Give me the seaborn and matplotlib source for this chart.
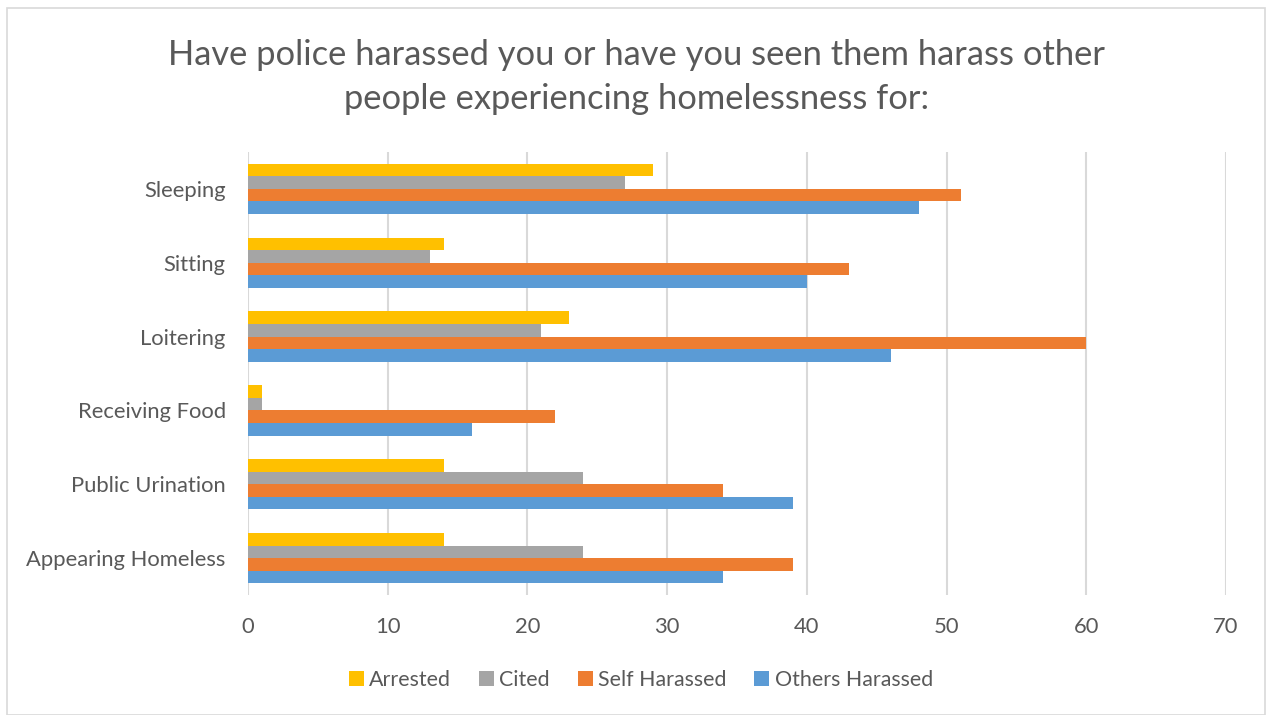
import matplotlib
matplotlib.use("Agg")
import matplotlib.pyplot as plt
from matplotlib.patches import Rectangle
import seaborn as sns
import pandas as pd

categories = ["Sleeping", "Sitting", "Loitering", "Receiving Food",
              "Public Urination", "Appearing Homeless"]
series = ["Arrested", "Cited", "Self Harassed", "Others Harassed"]
arrested = [29, 14, 23, 1, 14, 14]
cited = [27, 13, 21, 1, 24, 24]
self_harassed = [51, 43, 60, 22, 34, 39]
others_harassed = [48, 40, 46, 16, 39, 34]
x_ticks = [0, 10, 20, 30, 40, 50, 60, 70]
title = ("Have police harassed you or have you seen them harass other\n"
         "people experiencing homelessness for:")

colors = ["#FFC000", "#A5A5A5", "#ED7D31", "#5B9BD5"]
text_color = "#595959"

rows = []
for name, vals in zip(series, [arrested, cited, self_harassed, others_harassed]):
    for cat, v in zip(categories, vals):
        rows.append({"Activity": cat, "Series": name, "Count": v})
df = pd.DataFrame(rows)

sns.set_theme(style="white")
plt.rcParams["font.family"] = ["Lato", "DejaVu Sans"]

fig = plt.figure(figsize=(12.66, 7.15), dpi=100)
ax = fig.add_axes([248 / 1266, 1 - 595 / 715, (1226 - 248) / 1266, (595 - 152) / 715])

sns.barplot(data=df, y="Activity", x="Count", hue="Series", order=categories,
            hue_order=series, palette=colors, orient="h", width=0.68,
            saturation=1, ax=ax, legend=True, linewidth=0)

ax.set_xlim(0, 70)
ax.set_ylim(len(categories) - 0.5, -0.5)
ax.set_xticks(x_ticks)
ax.set_xticklabels([str(t) for t in x_ticks])
ax.xaxis.grid(True, color="#D9D9D9", linewidth=1.5)
ax.set_axisbelow(True)
for s in ax.spines.values():
    s.set_visible(False)
ax.set_xlabel("")
ax.set_ylabel("")
ax.tick_params(axis="both", length=0, labelsize=15.8, labelcolor=text_color)
ax.tick_params(axis="x", pad=16)
ax.tick_params(axis="y", pad=16)

handles, labels = ax.get_legend_handles_labels()
ax.legend_.remove()
fig.legend(handles, labels, loc="center", bbox_to_anchor=(641 / 1266, 1 - 680 / 715),
           ncol=4, frameon=False, fontsize=15.4, labelcolor=text_color,
           handlelength=0.7, handleheight=0.7, handletextpad=0.25, columnspacing=1.3)

fig.text(637 / 1266, 1 - 77 / 715, title, ha="center", va="center",
         fontsize=24.8, color=text_color, linespacing=1.45)

fig.patches.append(Rectangle((7 / 1266, 0), 1 - 8 / 1266, 1 - 8 / 715,
                             transform=fig.transFigure, fill=False,
                             edgecolor="#D9D9D9", linewidth=1.2))

fig.savefig("out.png", dpi=100)
